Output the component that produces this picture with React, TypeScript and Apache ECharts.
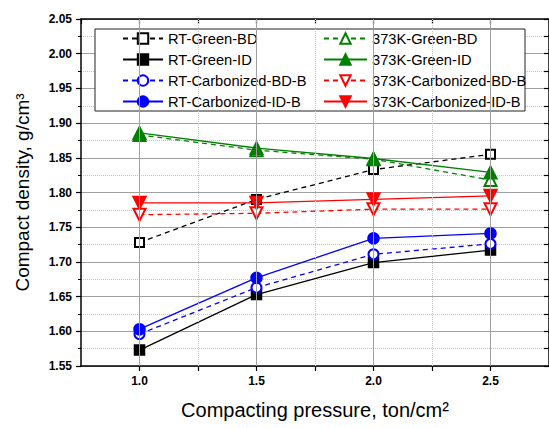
import React, { useEffect, useRef } from 'react';
import * as echarts from 'echarts';

// Compacting pressure (ton/cm2)
const pressure = [1.0, 1.5, 2.0, 2.5];

// Compact density (g/cm3)
const rtGreenBD = [1.728, 1.790, 1.833, 1.855];
const rtGreenID = [1.573, 1.653, 1.699, 1.717];
const rtCarbBD = [1.596, 1.663, 1.711, 1.726];
const rtCarbID = [1.603, 1.677, 1.734, 1.741];
const kGreenBD = [1.883, 1.861, 1.848, 1.818];
const kGreenID = [1.886, 1.864, 1.849, 1.829];
const kCarbBD = [1.768, 1.770, 1.776, 1.776];
const kCarbID = [1.785, 1.785, 1.790, 1.795];

const legendLeft = ['RT-Green-BD', 'RT-Green-ID', 'RT-Carbonized-BD-B', 'RT-Carbonized-ID-B'];
const legendRight = ['373K-Green-BD', '373K-Green-ID', '373K-Carbonized-BD-B', '373K-Carbonized-ID-B'];

const xLabelValues = [1.0, 1.5, 2.0, 2.5];
const xMajorGrid = [1.0, 1.5, 2.0, 2.5];
const xMinorGrid = [1.25, 1.75, 2.25];

const FONT = '"Liberation Sans", Arial, Helvetica, sans-serif';

function mk(name: string, ys: number[], color: string, dashed: boolean, symbol: string, size: number, rotate = 0) {
  return {
    type: 'line',
    name,
    data: pressure.map((x, i) => [x, ys[i]]),
    symbol,
    symbolSize: size,
    symbolRotate: rotate,
    showAllSymbol: true,
    z: 3,
    lineStyle: { color, width: 1.3, type: dashed ? [5, 4] : 'solid' },
    itemStyle: { color, borderColor: color, borderWidth: 1.5 },
    emphasis: { disabled: true },
  };
}

export default function App() {
  const ref = useRef<HTMLDivElement>(null);
  useEffect(() => {
    document.body.style.margin = '0';
    const chart = echarts.init(ref.current!, null, { renderer: 'svg' });
    const black = '#000';
    const option: any = {
      animation: false,
      textStyle: { fontFamily: FONT },
      grid: { left: 81, top: 19, width: 470, height: 347, containLabel: false },
      xAxis: [
        {
          type: 'value', position: 'bottom', min: 0.75, max: 2.75, interval: 0.25,
          axisLine: { show: true, onZero: false, lineStyle: { color: black, width: 1.5 } },
          axisTick: { show: true, inside: false, length: 5, lineStyle: { color: black, width: 1.2 } },
          axisLabel: {
            color: black, fontWeight: 'bold', fontSize: 12, margin: 9, fontFamily: FONT,
            showMinLabel: false, showMaxLabel: false,
            formatter: (v: number) => (xLabelValues.some((t) => Math.abs(t - v) < 1e-6) ? v.toFixed(1) : ''),
          },
          splitLine: { show: false },
          name: 'Compacting pressure, ton/cm²', nameLocation: 'middle', nameGap: 34,
          nameTextStyle: { color: black, fontSize: 20, fontFamily: FONT },
        },
        {
          type: 'value', position: 'top', min: 0.75, max: 2.75, interval: 0.25,
          axisLine: { show: true, onZero: false, lineStyle: { color: black, width: 1.5 } },
          axisTick: { show: true, inside: true, length: 5, lineStyle: { color: black, width: 1.2 } },
          axisLabel: { show: false },
          splitLine: { show: false },
        },
      ],
      yAxis: [
        {
          type: 'value', position: 'left', min: 1.55, max: 2.05, interval: 0.05,
          axisLine: { show: true, onZero: false, lineStyle: { color: black, width: 1.5 } },
          axisTick: { show: true, inside: false, length: 5, lineStyle: { color: black, width: 1.2 } },
          minorTick: { show: true, splitNumber: 2, length: 3, lineStyle: { color: black, width: 1 } },
          axisLabel: {
            color: black, fontWeight: 'bold', fontSize: 12, margin: 9, fontFamily: FONT,
            formatter: (v: number) => v.toFixed(2),
          },
          splitLine: { show: true, lineStyle: { color: '#a0a0a0', width: 1 } },
          minorSplitLine: { show: true, lineStyle: { color: '#c4c4c4', width: 1, type: 'dotted' } },
          name: 'Compact density, g/cm³', nameLocation: 'middle', nameGap: 49,
          nameTextStyle: { color: black, fontSize: 19, fontFamily: FONT },
        },
        {
          type: 'value', position: 'right', min: 1.55, max: 2.05, interval: 0.05,
          axisLine: { show: true, onZero: false, lineStyle: { color: black, width: 1.5 } },
          axisTick: { show: true, inside: true, length: 5, lineStyle: { color: black, width: 1.2 } },
          minorTick: { show: true, splitNumber: 2, length: 5, lineStyle: { color: black, width: 1.2 } },
          axisLabel: { show: false },
          splitLine: { show: false },
        },
      ],
      legend: [
        {
          data: legendLeft, orient: 'vertical', left: 122, top: 31, padding: 0, itemWidth: 40, itemHeight: 13, itemGap: 6,
          textStyle: { color: black, fontSize: 14.7, fontFamily: FONT }, selectedMode: false, z: 5,
        },
        {
          data: legendRight, orient: 'vertical', left: 323, top: 31, padding: 0, itemWidth: 43, itemHeight: 13, itemGap: 6,
          textStyle: { color: black, fontSize: 14.7, fontFamily: FONT }, selectedMode: false, z: 5,
        },
      ],
      graphic: [
        {
          type: 'rect', z: 4, shape: { x: 95, y: 29, width: 430, height: 82 },
          style: { fill: '#fff', stroke: '#222', lineWidth: 1 },
        },
      ],
      series: [
        {
          type: 'line', name: 'gridlines', data: [], silent: true, z: 1,
          markLine: {
            silent: true, symbol: ['none', 'none'], label: { show: false }, animation: false,
            data: [
              ...xMajorGrid.map((v) => ({ xAxis: v, lineStyle: { color: '#a0a0a0', width: 1, type: 'solid' } })),
              ...xMinorGrid.map((v) => ({ xAxis: v, lineStyle: { color: '#c4c4c4', width: 1, type: 'dotted' } })),
            ],
          },
        },
        mk('RT-Green-BD', rtGreenBD, '#000000', true, 'emptyRect', 9),
        mk('RT-Green-ID', rtGreenID, '#000000', false, 'rect', 10),
        mk('RT-Carbonized-BD-B', rtCarbBD, '#0000ff', true, 'emptyCircle', 10),
        mk('RT-Carbonized-ID-B', rtCarbID, '#0000ff', false, 'circle', 11),
        mk('373K-Green-BD', kGreenBD, '#008000', true, 'emptyTriangle', 12),
        mk('373K-Green-ID', kGreenID, '#008000', false, 'triangle', 13),
        mk('373K-Carbonized-BD-B', kCarbBD, '#ff0000', true, 'emptyTriangle', 12, 180),
        mk('373K-Carbonized-ID-B', kCarbID, '#ff0000', false, 'triangle', 13, 180),
      ],
    };
    chart.setOption(option);
    return () => chart.dispose();
  }, []);
  return <div ref={ref} style={{ width: 549, height: 428 }} />;
}
